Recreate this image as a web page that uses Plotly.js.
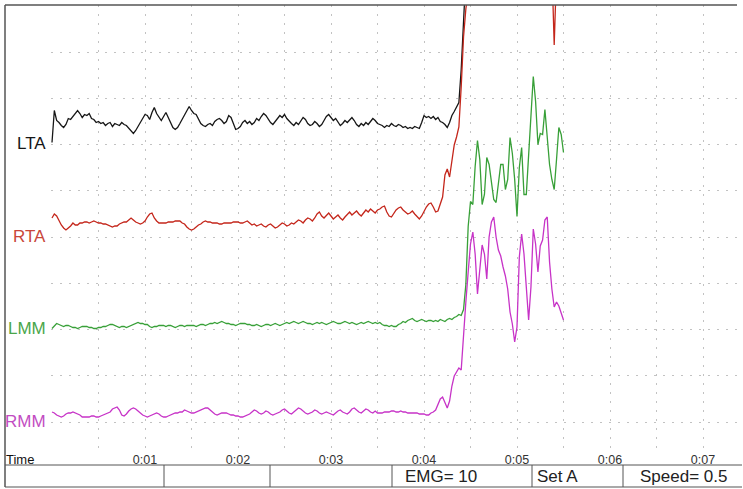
<!DOCTYPE html>
<html>
<head>
<meta charset="utf-8">
<script src="https://cdn.plot.ly/plotly-3.0.1.min.js"></script>
<style>
  html, body { margin: 0; padding: 0; background: #fff; }
  #chart { width: 743px; height: 489px; }
</style>
</head>
<body>
<div id="chart"></div>
<script>
// EMG recording, four channels, sampled every 25 ms from t = 0.
// Amplitudes are relative to each channel's own baseline (plot units).
const SAMPLE_INTERVAL = 0.025;

const channelNames = ["LTA", "RTA", "LMM", "RMM"];

const lta = [
  2, 34, 24, 22, 19, 17, 20, 26, 25, 28,
  32, 34, 31, 27, 30, 29, 31, 26, 25, 22,
  23, 21, 22, 19, 21, 22, 18, 21, 20, 19,
  22, 20, 19, 16, 13, 11, 14, 18, 22, 26,
  30, 29, 25, 32, 37, 31, 27, 24, 28, 32,
  27, 21, 17, 15, 17, 21, 25, 30, 34, 38,
  34, 31, 30, 25, 21, 19, 18, 20, 21, 19,
  23, 25, 26, 24, 21, 23, 29, 27, 20, 15,
  16, 18, 22, 24, 21, 23, 20, 22, 26, 24,
  28, 31, 29, 25, 22, 20, 23, 26, 29, 27,
  30, 26, 23, 21, 19, 22, 20, 24, 27, 25,
  21, 19, 20, 23, 21, 18, 20, 24, 28, 30,
  27, 24, 26, 22, 19, 21, 24, 22, 25, 27,
  24, 20, 18, 21, 19, 22, 20, 23, 26, 24,
  21, 20, 19, 17, 19, 18, 21, 19, 18, 20,
  19, 17, 18, 16, 17, 16, 18, 17, 16, 22,
  29, 27, 28, 26, 28, 25, 27, 23, 22, 20,
  17, 22, 29, 33, 37, 42, 75, 130, 170
];

const rta = [
  19, 23, 21, 16, 12, 9, 7, 9, 11, 14,
  12, 12, 14, 14, 15, 15, 14, 15, 16, 15,
  14, 14, 13, 13, 12, 11, 10, 11, 11, 13,
  14, 15, 15, 17, 19, 17, 15, 14, 13, 14,
  16, 20, 23, 24, 19, 16, 14, 14, 14, 14,
  15, 15, 15, 16, 16, 16, 14, 13, 10, 8,
  7, 8, 10, 12, 13, 15, 16, 15, 15, 14,
  14, 14, 13, 13, 14, 14, 14, 14, 15, 15,
  15, 14, 14, 15, 16, 14, 12, 13, 11, 12,
  13, 11, 10, 12, 13, 11, 9, 10, 12, 14,
  13, 11, 12, 14, 13, 15, 17, 16, 14, 17,
  19, 18, 16, 19, 23, 25, 21, 19, 22, 24,
  21, 18, 20, 22, 19, 17, 20, 23, 25, 22,
  24, 26, 23, 21, 24, 27, 25, 28, 26, 24,
  27, 28, 30, 31, 25, 21, 20, 24, 27, 29,
  30, 27, 25, 23, 24, 26, 23, 20, 18, 21,
  26, 30, 33, 34, 30, 25, 26, 33, 40, 62,
  68, 60, 78, 92, 100, 110, 150, 200, 228, 245,
  262, 280, 275, 290, 300, 285, 270, 295, 310, 300,
  290, 305, 320, 300, 285, 295, 310, 320, 305, 290,
  300, 315, 325, 310, 295, 300, 290, 305, 315, 300,
  285, 295, 300, 290, 280, 270, 192, 265
];

const lmm = [
  1, 4, 6, 5, 4, 3, 4, 4, 3, 2,
  2, 1, 2, 3, 3, 3, 2, 2, 1, 1,
  2, 2, 3, 3, 4, 5, 5, 4, 3, 2,
  3, 3, 2, 3, 4, 5, 6, 7, 6, 6,
  5, 5, 3, 2, 3, 3, 4, 4, 4, 3,
  4, 4, 3, 2, 3, 4, 4, 3, 4, 4,
  4, 4, 3, 4, 5, 5, 4, 5, 6, 6,
  7, 6, 7, 8, 7, 6, 6, 5, 5, 4,
  5, 6, 6, 6, 5, 5, 4, 4, 5, 4,
  3, 4, 5, 5, 4, 5, 6, 5, 4, 5,
  6, 7, 6, 7, 8, 7, 6, 7, 8, 7,
  6, 6, 5, 6, 7, 6, 7, 6, 5, 6,
  7, 8, 7, 6, 6, 7, 8, 7, 6, 7,
  6, 5, 6, 7, 6, 7, 8, 7, 6, 7,
  6, 7, 5, 4, 4, 3, 4, 3, 3, 5,
  6, 8, 7, 9, 10, 11, 9, 8, 9, 10,
  9, 8, 9, 9, 8, 9, 8, 10, 9, 8,
  10, 11, 10, 12, 13, 15, 14, 20, 45, 103,
  128, 125, 163, 189, 170, 125, 135, 172, 165, 146,
  130, 127, 145, 165, 165, 140, 150, 192, 176, 150,
  113, 162, 182, 135, 135, 175, 212, 253, 228, 185,
  196, 195, 220, 195, 165, 150, 140, 170, 202, 195, 177
];

const rmm = [
  10, 9, 7, 6, 5, 6, 8, 9, 9, 10,
  9, 8, 7, 5, 5, 5, 5, 6, 6, 5,
  5, 6, 7, 8, 9, 10, 13, 14, 15, 12,
  7, 6, 8, 11, 13, 14, 13, 11, 9, 7,
  6, 5, 6, 7, 8, 9, 8, 6, 5, 5,
  6, 7, 8, 9, 9, 10, 10, 12, 11, 10,
  9, 9, 10, 11, 12, 13, 14, 14, 12, 10,
  8, 7, 8, 9, 9, 9, 8, 7, 7, 6,
  6, 5, 5, 6, 7, 8, 10, 12, 11, 9,
  8, 9, 11, 10, 8, 7, 8, 9, 10, 12,
  13, 11, 9, 8, 10, 12, 14, 13, 11, 9,
  8, 9, 10, 12, 11, 9, 8, 9, 10, 9,
  8, 7, 9, 11, 12, 10, 9, 8, 10, 13,
  14, 12, 10, 9, 11, 13, 12, 10, 9, 11,
  9, 9, 9, 10, 10, 10, 11, 11, 10, 10,
  11, 10, 10, 9, 9, 9, 9, 9, 8, 8,
  8, 7, 7, 9, 10, 12, 17, 23, 25, 19,
  14, 21, 36, 46, 50, 54, 52, 92, 120, 150,
  178, 190, 168, 128, 155, 177, 168, 143, 185, 200,
  205, 185, 172, 166, 155, 146, 133, 110, 98, 80,
  95, 165, 188, 168, 135, 102, 135, 193, 178, 150,
  176, 182, 202, 205, 160, 133, 115, 120, 116, 110, 102
];

// Time axis labels (m:ss), one per second
const tickSeconds = [1, 2, 3, 4, 5, 6, 7];
const tickLabels = ["0:01", "0:02", "0:03", "0:04", "0:05", "0:06", "0:07"];

// Status bar fields
const statusFields = ["EMG= 10", "Set A", "Speed= 0.5"];

// Display layout: each channel sits two grid divisions above the next one
const DIV = 46.25;
const channelBase = [6 * DIV, 4 * DIV, 2 * DIV, 0];
const lineColors = ["#161616", "#c4261b", "#38a038", "#c733c7"];
const labelColors = ["#161616", "#c9463a", "#4aa64a", "#c24cc2"];
const channelData = [lta, rta, lmm, rmm];

const traces = channelData.map((vals, k) => ({
  type: "scatter",
  mode: "lines",
  x: vals.map((_, i) => i * SAMPLE_INTERVAL),
  y: vals.map(v => v + channelBase[k]),
  line: { color: lineColors[k], width: 1.3 },
  hoverinfo: "skip",
  showlegend: false,
  name: channelNames[k]
}));

// Grid: dotted lines every half second and every division
const gridVals = [];
for (let s = 0; s <= 7.001; s += 0.5) gridVals.push(Math.round(s * 10) / 10);
const gridText = gridVals.map(v => {
  const idx = tickSeconds.indexOf(v);
  return idx >= 0 ? tickLabels[idx] : "";
});

const W = 743, H = 489;
const M = { l: 51, r: 5, t: 5, b: 39 };
const pw = W - M.l - M.r, ph = H - M.t - M.b;
const px = x => (x - M.l) / pw;          // page x -> paper
const py = y => (H - M.b - y) / ph;      // page y -> paper
const SEC_PX = 93;                        // horizontal scale, px per second

const frame = "#555555";
const shapes = [
  { type: "line", xref: "paper", yref: "paper", x0: px(5), x1: px(5), y0: py(5), y1: py(487), line: { color: frame, width: 1.5 } },
  { type: "line", xref: "paper", yref: "paper", x0: px(5), x1: px(737), y0: py(5), y1: py(5), line: { color: frame, width: 1.5 } },
  { type: "line", xref: "paper", yref: "paper", x0: px(5), x1: px(742), y0: py(465), y1: py(465), line: { color: frame, width: 1 } },
  { type: "line", xref: "paper", yref: "paper", x0: px(5), x1: px(742), y0: py(487), y1: py(487), line: { color: frame, width: 1.2 } }
];
[164, 270, 392, 532, 623].forEach(xp => shapes.push({
  type: "line", xref: "paper", yref: "paper", x0: px(xp), x1: px(xp), y0: py(465), y1: py(487),
  line: { color: frame, width: 1 }
}));

const annotations = [];
channelNames.forEach((n, k) => annotations.push({
  text: n, xref: "paper", yref: "y", x: px(48), y: channelBase[k] + 1,
  xanchor: "right", yanchor: "middle", showarrow: false,
  font: { size: 17, color: labelColors[k] }
}));
annotations.push({
  text: "Time", xref: "paper", yref: "paper", x: px(4), y: py(459),
  xanchor: "left", yanchor: "middle", showarrow: false,
  font: { size: 13, color: "#111" }
});
const statusX = [441, 557, 683];
statusFields.forEach((t, k) => annotations.push({
  text: t, xref: "paper", yref: "paper", x: px(statusX[k]), y: py(476),
  xanchor: "center", yanchor: "middle", showarrow: false,
  font: { size: 17, color: "#222" }
}));

const layout = {
  width: W, height: H,
  margin: M,
  paper_bgcolor: "#fff",
  plot_bgcolor: "#fff",
  font: { family: "Liberation Sans, Arial, sans-serif", color: "#333" },
  xaxis: {
    range: [-1 / SEC_PX, (738 - 52) / SEC_PX],
    tickmode: "array",
    tickvals: gridVals,
    ticktext: gridText,
    ticks: "",
    showline: false,
    zeroline: false,
    showgrid: true,
    gridcolor: "#c2c2c2",
    griddash: "2px,7px",
    gridwidth: 1,
    tickfont: { size: 12.5, color: "#333" },
    fixedrange: true
  },
  yaxis: {
    range: [-28, 417],
    tickmode: "linear",
    tick0: 0,
    dtick: DIV,
    showticklabels: false,
    ticks: "",
    showline: false,
    zeroline: false,
    showgrid: true,
    gridcolor: "#c2c2c2",
    griddash: "2px,7px",
    gridwidth: 1,
    fixedrange: true
  },
  shapes: shapes,
  annotations: annotations,
  showlegend: false
};

Plotly.newPlot("chart", traces, layout, { staticPlot: true, displayModeBar: false });
</script>
</body>
</html>
